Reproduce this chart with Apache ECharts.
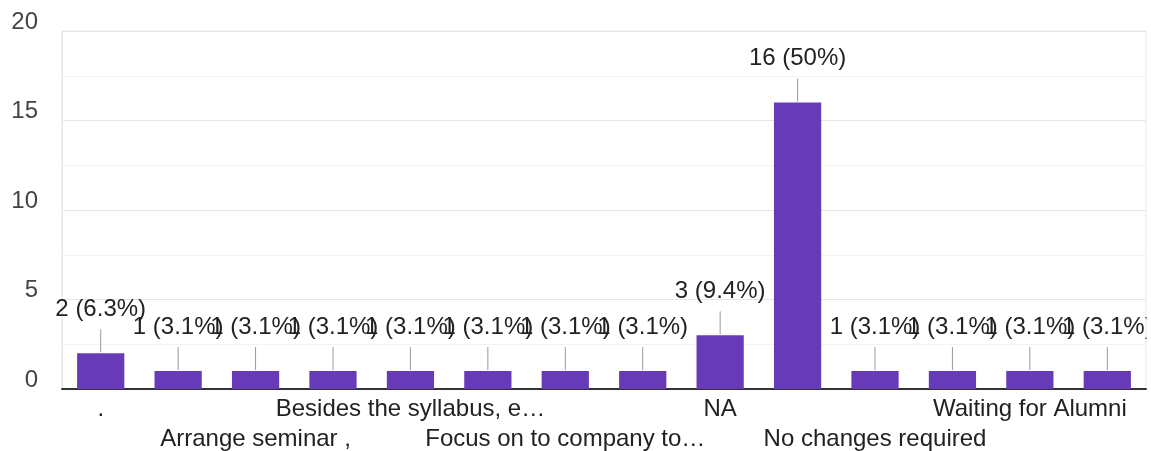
<!DOCTYPE html>
<html>
<head>
<meta charset="utf-8">
<script src="https://cdn.jsdelivr.net/npm/echarts@6/dist/echarts.min.js"></script>
<style>
  html, body { margin: 0; padding: 0; background: #fff; }
  #chart { width: 1151px; height: 451px; }
</style>
</head>
<body>
<div id="chart"></div>
<script>
// answers (x axis shows every other one, as in the form summary)
const categories = [
  '.', 'All good', 'Arrange seminar ,', 'Arrange workshops',
  'Besides the syllabus, e…', 'Conduct more mock interviews',
  'Focus on to company to…', 'Good', 'NA', 'No',
  'No changes required', 'Nothing', 'Waiting for Alumni', 'Workshops'
]
const counts = [2, 1, 1, 1, 1, 1, 1, 1, 3, 16, 1, 1, 1, 1]
const yTicks = [0, 5, 10, 15, 20]

const total = counts.reduce((a, b) => a + b, 0)
const font = 'Arial, "Liberation Sans", sans-serif'

function pct(v) {
  let s = (v / total * 100).toFixed(1)
  if (s.endsWith('.0')) s = s.slice(0, -2)
  return v + ' (' + s + '%)'
}

const chart = echarts.init(document.getElementById('chart'))
chart.setOption({
  animation: false,
  grid: {
    left: 62,
    right: 5,
    top: 31,
    bottom: 62,
    show: true,
    borderColor: '#e6e6e6',
    borderWidth: 1,
    outerBoundsMode: 'none'
  },
  // the last value label is cut at the right edge of the plot in the original
  graphic: [{
    type: 'rect',
    right: 0,
    top: 0,
    shape: { width: 4.5, height: 388 },
    style: { fill: '#fff' },
    z: 100
  }],
  xAxis: {
    type: 'category',
    data: categories,
    axisTick: { show: false },
    axisLine: { lineStyle: { color: '#333', width: 2 } },
    axisLabel: {
      interval: 0,
      margin: 5,
      fontSize: 24,
      lineHeight: 30,
      color: '#222',
      fontFamily: font,
      // only every other answer is labelled, on two alternating rows
      formatter: (val, idx) => {
        if (idx % 2 === 1) return ''
        return (idx / 2) % 2 === 1 ? '\n' + val : val
      }
    }
  },
  yAxis: {
    type: 'value',
    min: 0,
    max: 20,
    interval: 2.5,
    axisLine: { show: true, lineStyle: { color: '#e6e6e6' } },
    axisTick: { show: false },
    splitLine: { lineStyle: { color: ['#e6e6e6', '#f2f2f2'], width: 1 } },
    axisLabel: {
      margin: 24,
      fontSize: 24,
      lineHeight: 18,
      verticalAlign: 'bottom',
      color: '#444',
      fontFamily: font,
      formatter: v => yTicks.indexOf(v) >= 0 ? String(v) : ''
    }
  },
  series: [
    {
      type: 'bar',
      data: counts,
      barWidth: '61%',
      itemStyle: { color: '#673ab7' }
    },
    {
      // value labels with a short leader line, Google Forms style
      type: 'custom',
      data: counts.map((v, i) => [i, v]),
      encode: { x: 0, y: 1 },
      z: 5,
      renderItem(params, api) {
        const i = api.value(0)
        const v = api.value(1)
        const p = api.coord([i, v])
        const lineTop = p[1] - 24
        return {
          type: 'group',
          children: [
            {
              type: 'line',
              shape: { x1: p[0], y1: p[1] - 1, x2: p[0], y2: lineTop },
              style: { stroke: '#999', lineWidth: 1 }
            },
            {
              type: 'text',
              x: p[0],
              y: lineTop - 8,
              style: {
                text: pct(v),
                fill: '#222',
                font: '24px ' + font,
                align: 'center',
                verticalAlign: 'bottom'
              }
            }
          ]
        }
      }
    }
  ]
})
</script>
</body>
</html>
